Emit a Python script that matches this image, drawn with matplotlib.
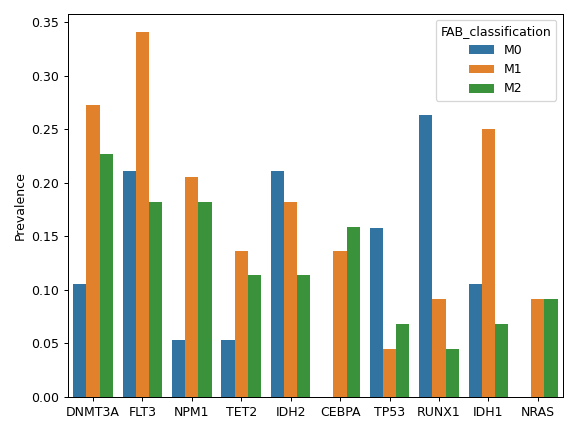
import matplotlib
matplotlib.use("Agg")
import matplotlib.pyplot as plt
import seaborn as sns
import pandas as pd

genes = ["DNMT3A", "FLT3", "NPM1", "TET2", "IDH2", "CEBPA", "TP53", "RUNX1", "IDH1", "NRAS"]
m0 = [0.105, 0.211, 0.053, 0.053, 0.211, 0.0, 0.158, 0.263, 0.105, 0.0]
m1 = [0.273, 0.341, 0.205, 0.136, 0.182, 0.136, 0.045, 0.091, 0.250, 0.091]
m2 = [0.227, 0.182, 0.182, 0.114, 0.114, 0.159, 0.068, 0.045, 0.068, 0.091]

rows = []
for name, vals in [("M0", m0), ("M1", m1), ("M2", m2)]:
    for g, v in zip(genes, vals):
        rows.append({"Gene": g, "Prevalence": v, "FAB_classification": name})
df = pd.DataFrame(rows)

fig, ax = plt.subplots(figsize=(6.4, 4.8), dpi=90)
sns.barplot(data=df, x="Gene", y="Prevalence", hue="FAB_classification", ax=ax)
ax.set_xlabel("")
ax.set_ylabel("Prevalence")
fig.tight_layout()
fig.savefig("out.png", dpi=90)
